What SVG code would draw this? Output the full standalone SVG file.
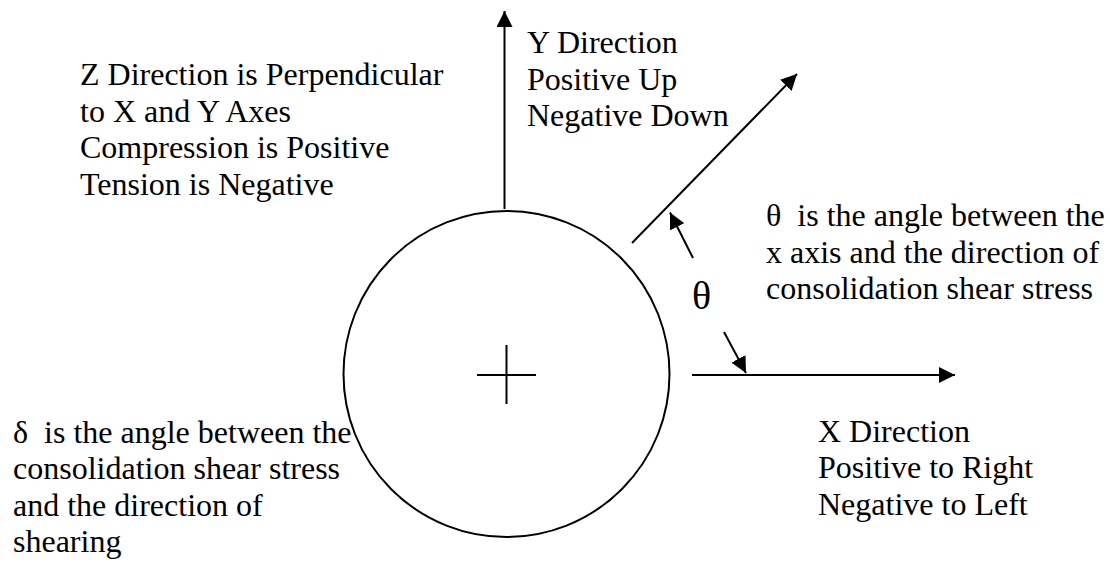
<svg xmlns="http://www.w3.org/2000/svg" width="1110" height="561" viewBox="0 0 1110 561">
<style>
.ln{stroke:#000;stroke-width:2;fill:none}
.t{font-family:"Liberation Serif",serif;font-size:32px;fill:#000}
.big{font-size:40px}
</style>
<defs>
<marker id="ah" markerUnits="userSpaceOnUse" markerWidth="17" markerHeight="16" refX="16" refY="8" orient="auto" viewBox="0 0 17 16">
<path d="M0,0 L16,8 L0,16 z" fill="#000"/>
</marker>
</defs>
<rect width="1110" height="561" fill="#fff"/>
<g id="circle">
<circle class="ln" cx="506.5" cy="374" r="163"/>
<line class="ln" x1="477" y1="375" x2="536" y2="375"/>
<line class="ln" x1="506.5" y1="345" x2="506.5" y2="404"/>
</g>
<g id="connectors">
<line class="ln" x1="504.5" y1="209" x2="504.5" y2="11" marker-end="url(#ah)"/>
<line class="ln" x1="692" y1="375" x2="955" y2="375" marker-end="url(#ah)"/>
<line class="ln" x1="632" y1="243" x2="797" y2="74" marker-end="url(#ah)"/>
<line class="ln" x1="693" y1="258" x2="670" y2="212.5" marker-end="url(#ah)"/>
<line class="ln" x1="724" y1="332" x2="746" y2="373" marker-end="url(#ah)"/>
</g>
<g class="t">
<g id="label-y">
<text x="527" y="53">Y Direction</text>
<text x="527" y="90">Positive Up</text>
<text x="527" y="126">Negative Down</text>
</g>
<g id="label-z">
<text x="80" y="85">Z Direction is Perpendicular</text>
<text x="80" y="122">to X and Y Axes</text>
<text x="80" y="158">Compression is Positive</text>
<text x="80" y="195">Tension is Negative</text>
</g>
<g id="label-theta">
<text x="766" y="226" xml:space="preserve">θ  is the angle between the</text>
<text x="766" y="263">x axis and the direction of</text>
<text x="766" y="299">consolidation shear stress</text>
</g>
<g id="theta-symbol">
<text class="big" x="692" y="309">θ</text>
</g>
<g id="label-x">
<text x="818" y="442">X Direction</text>
<text x="818" y="478">Positive to Right</text>
<text x="818" y="515">Negative to Left</text>
</g>
<g id="label-delta">
<text x="13" y="443" xml:space="preserve">δ  is the angle between the</text>
<text x="13" y="479">consolidation shear stress</text>
<text x="13" y="516">and the direction of</text>
<text x="13" y="552">shearing</text>
</g>
</g>
</svg>
